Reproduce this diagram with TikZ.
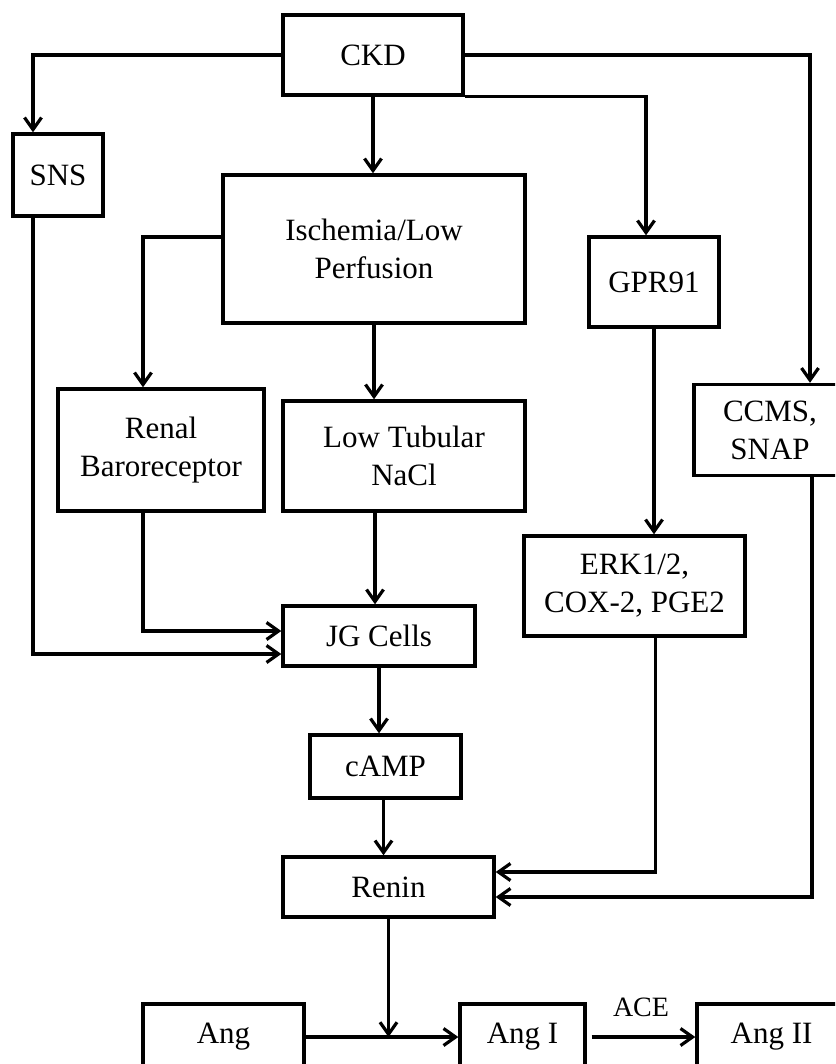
\documentclass[tikz,border=0pt]{standalone}
\usepackage{fontspec}
\setmainfont{Liberation Serif}
\usetikzlibrary{arrows.meta}
\tikzset{
  blk/.style 2 args={draw, line width=3.4pt, align=center, inner sep=0pt,
    minimum width=#1pt, minimum height=#2pt, font=\fontsize{31}{38}\selectfont},
  arr/.style={line width=3.2pt, -{Straight Barb[length=12pt,width=17pt]}}
}

\begin{document}
\begin{tikzpicture}[x=1pt,y=-1pt]
  \useasboundingbox (0,0) rectangle (835,1064);
  \clip (0,0) rectangle (835,1064);

  \node[blk={180}{80}] (ckd) at (373,55) {CKD};
  \node[blk={90}{82}] (sns) at (58,175) {SNS};
  \node[blk={302}{148}] (isch) at (374,249) {Ischemia/Low\\Perfusion};
  \node[blk={130}{90}] (gpr) at (654,282) {GPR91};
  \node[blk={206}{122}] (renal) at (161,450) {Renal\\Baroreceptor};
  \node[blk={242}{110}] (tub) at (404,456) {Low Tubular\\NaCl};
  \node[blk={152}{91}] (ccms) at (770,430) {CCMS,\\SNAP};
  \node[blk={221}{100}] (erk) at (634.5,586) {ERK1/2,\\COX-2, PGE2};
  \node[blk={192}{60}] (jg) at (379,636) {JG Cells};
  \node[blk={151}{63}] (camp) at (385.5,766.5) {cAMP};
  \node[blk={211}{60}] (renin) at (388.5,887) {Renin};
  \node[blk={161}{66}] (ang) at (223.5,1037) {Ang};
  \node[blk={125}{66}] (ang1) at (522.5,1037) {Ang I};
  \node[blk={149}{66}] (ang2) at (771.5,1037) {Ang II};

  \draw[arr] (ckd.west) -| ([xshift=-25pt]sns.north);
  \draw[arr] (ckd.east) -| ([xshift=40pt]ccms.north);
  \draw[arr] (ckd.south) -- (ckd.south |- isch.north);
  \draw[arr] (ckd.south east) -| ([xshift=-8pt]gpr.north);
  \draw[arr] ([yshift=12pt]isch.west) -| ([xshift=-18pt]renal.north);
  \draw[arr] (isch.south) -- (isch.south |- tub.north);
  \draw[arr] (gpr.south) -- (gpr.south |- erk.north);
  \draw[arr] ([xshift=-29pt]tub.south) -- ([xshift=-29pt]tub.south |- jg.north);
  \draw[arr] ([xshift=-18pt]renal.south) |- ([yshift=5pt]jg.west);
  \draw[arr] ([xshift=-25pt]sns.south) |- ([yshift=-18pt]jg.west);
  \draw[arr] (jg.south) -- (jg.south |- camp.north);
  \draw[arr] ([xshift=-2pt]camp.south) -- ([xshift=-2pt]camp.south |- renin.north);
  \draw[arr] ([xshift=21pt]erk.south) |- ([yshift=15pt]renin.east);
  \draw[arr] ([xshift=42pt]ccms.south) |- ([yshift=-10pt]renin.east);
  \draw[arr] (ang.east) -- (ang1.west);
  \draw[arr] (renin.south) -- (renin.south |- ang.east);
  \draw[arr, shorten <=5pt] (ang1.east) -- node[above=15pt, font=\fontsize{28}{32}\selectfont] (ace) {ACE} (ang2.west);
\end{tikzpicture}
\end{document}
